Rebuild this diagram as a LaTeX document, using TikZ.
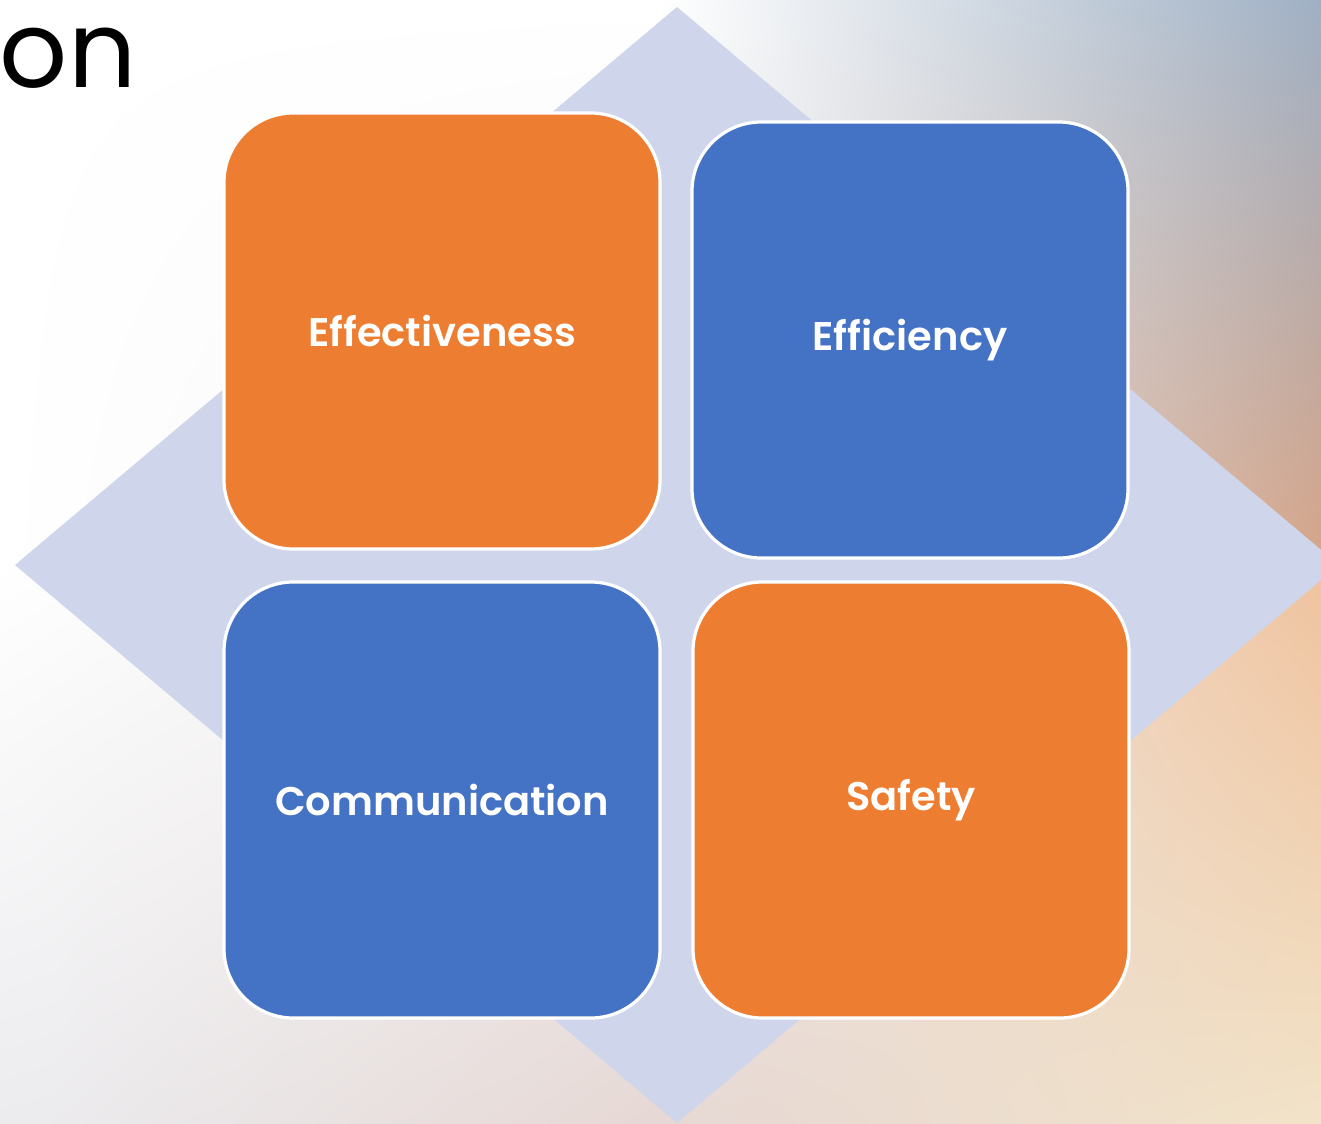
\documentclass[tikz,border=0pt]{standalone}
\usepackage{fontspec}
\setmainfont{Poppins}[BoldFont={Poppins SemiBold}]
\usepackage{tikz}
\usetikzlibrary{calc,shadings}
\usepackage{xcolor}
\definecolor{tileorange}{HTML}{ED7D31}
\definecolor{tileblue}{HTML}{4472C4}
\definecolor{diamondfill}{HTML}{CFD5EA}
\definecolor{bgslate}{HTML}{9FB0C4}
\definecolor{bgbrown}{HTML}{D6A68A}
\definecolor{bgpeach}{HTML}{EFC29E}
\definecolor{bgmist}{HTML}{F2F2F4}
\definecolor{bggrey}{HTML}{ECECEF}
\definecolor{bgrose}{HTML}{E6D8D4}
\definecolor{bgcream}{HTML}{F2E3C8}
\newcommand{\tilesize}{327pt}
\newcommand{\prpatch}[6]{\shade[upper left=#3,upper right=#4,lower left=#5,lower right=#6] (#1) rectangle (#2);}
\newcommand{\prtile}[4]{\node[tile,fill=#2] (#1) at (#3) {#4};}
\tikzset{
	tile/.style={draw=white,line width=2.4pt,rounded corners=52pt,minimum size=\tilesize,inner sep=0pt,
		text=white,font=\fontsize{30}{30}\selectfont\bfseries},
}

\begin{document}
\begin{tikzpicture}[x=0.75pt,y=-0.75pt]

		\useasboundingbox (0,0) rectangle (1321,1124);
		\clip (0,0) rectangle (1321,1124);

    % background
    \prpatch{0,0}{660,560}{white}{white}{white}{bgmist}
    \prpatch{660,0}{1321,560}{white}{bgslate}{bgmist}{bgbrown}
    \prpatch{0,560}{660,1124}{white}{bgmist}{bggrey}{bgrose}
    \prpatch{660,560}{1321,1124}{bgmist}{bgpeach}{bgrose}{bgcream}

    \fill[diamondfill] (677,7) -- (1339,565) -- (677,1123) -- (15,565) -- cycle;

    \node[anchor=base east,font=\fontsize{80}{80}\selectfont] (title) at (141,88) {on};

    \prtile{effect}{tileorange}{442,331}{Effectiveness}
    \prtile{effic}{tileblue}{910,340}{Efficiency}
    \prtile{comm}{tileblue}{442,800}{Communication}
    \prtile{safe}{tileorange}{911,800}{Safety}
    \end{tikzpicture}
\end{document}
